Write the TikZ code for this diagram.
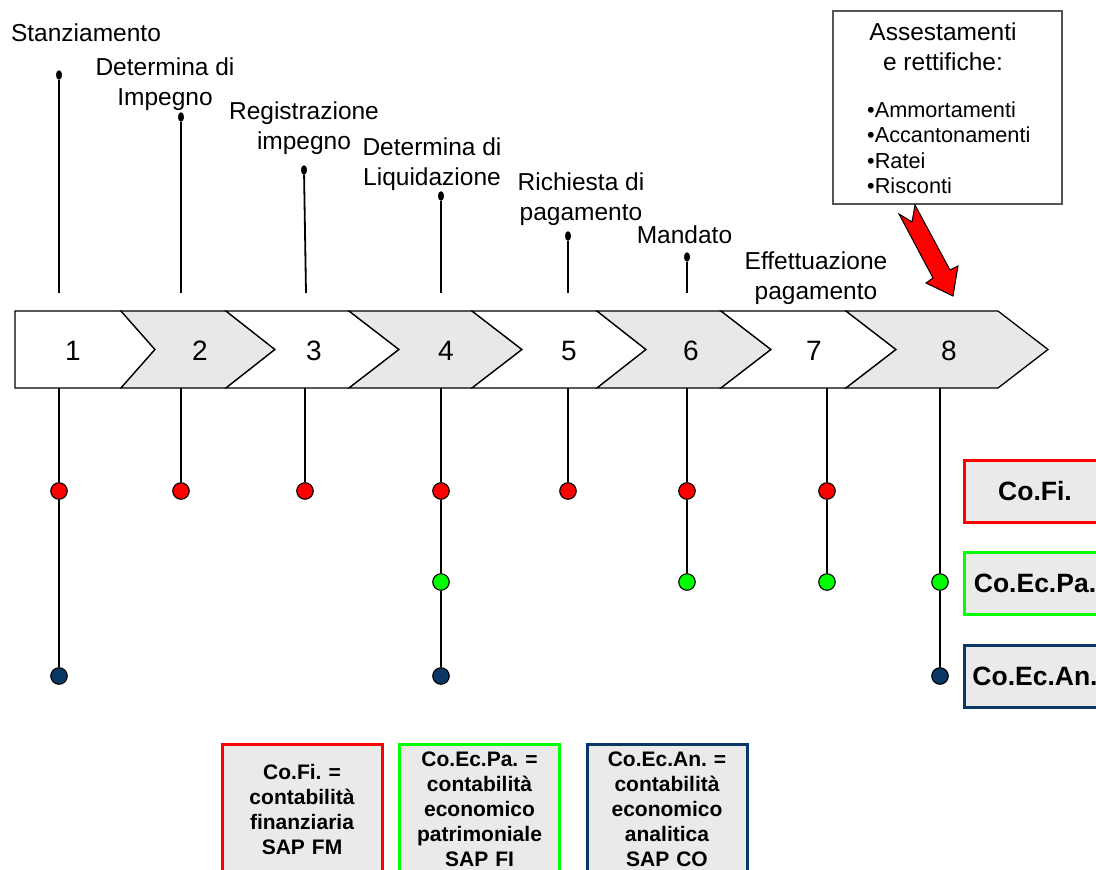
\documentclass[tikz,border=0pt]{standalone}
\usepackage{fontspec}
\setmainfont{Liberation Sans}
\usepackage{tikz}
\usetikzlibrary{positioning,shapes.geometric}
\usepackage{xcolor}
\definecolor{cofired}{HTML}{FF0000}
\definecolor{coecgreen}{HTML}{00FF00}
\definecolor{coannavy}{HTML}{0B3767}
\definecolor{bandgray}{HTML}{E8E8E8}
\definecolor{boxgray}{HTML}{EAEAEA}
\definecolor{framegray}{HTML}{555555}
\frenchspacing

\begin{document}
\begin{tikzpicture}[x=1pt,y=-1pt,
    lbl/.style={align=center, inner sep=0pt, font=\fontsize{24.5}{30}\selectfont},
    num/.style={anchor=base, inner sep=0pt, font=\fontsize{28}{30}\selectfont},
    pin/.style={ellipse, draw=black, fill=black, inner sep=0pt, minimum width=5.5pt, minimum height=9pt},
    dot/.style={circle, draw=black, line width=1.1pt, inner sep=0pt, minimum size=16.5pt},
    stem/.style={line width=1.8pt},
    legbox/.style={draw, line width=3pt, fill=boxgray, inner sep=0pt, align=center},
    keybox/.style={legbox, text width=158pt, minimum width=160pt, minimum height=131pt,
        font=\fontsize{21}{25}\selectfont\bfseries},
    sidebox/.style={legbox, minimum width=142pt, minimum height=62pt,
        font=\fontsize{26.5}{30}\selectfont\bfseries}]
    \useasboundingbox (0,0) rectangle (1096,870);

    % Band of phases
    \draw[line width=1.3pt, fill=white] (15,311) -- (121,311) -- (155,349.5) -- (121,388) -- (15,388) -- cycle;
    \draw[line width=1.3pt, fill=bandgray] (121,311) -- (226,311) -- (275,349.5) -- (226,388) -- (121,388) -- (155,349.5) -- cycle;
    \draw[line width=1.3pt, fill=white] (226,311) -- (349,311) -- (399,349.5) -- (349,388) -- (226,388) -- (275,349.5) -- cycle;
    \draw[line width=1.3pt, fill=bandgray] (349,311) -- (472,311) -- (522,349.5) -- (472,388) -- (349,388) -- (399,349.5) -- cycle;
    \draw[line width=1.3pt, fill=white] (472,311) -- (597,311) -- (646,349.5) -- (597,388) -- (472,388) -- (522,349.5) -- cycle;
    \draw[line width=1.3pt, fill=bandgray] (597,311) -- (721,311) -- (771,349.5) -- (721,388) -- (597,388) -- (646,349.5) -- cycle;
    \draw[line width=1.3pt, fill=white] (721,311) -- (846,311) -- (896,349.5) -- (846,388) -- (721,388) -- (771,349.5) -- cycle;
    \draw[line width=1.3pt, fill=bandgray] (846,311) -- (998,311) -- (1048,349.5) -- (998,388) -- (846,388) -- (896,349.5) -- cycle;
    \node[num] (n1) at (73,360) {1};
    \node[num] (n2) at (200,360) {2};
    \node[num] (n3) at (314,360) {3};
    \node[num] (n4) at (446,360) {4};
    \node[num] (n5) at (569,360) {5};
    \node[num] (n6) at (691,360) {6};
    \node[num] (n7) at (814,360) {7};
    \node[num] (n8) at (949,360) {8};

    % Steps above the band
    \node[lbl, anchor=base] (stanz) at (86,41) {Stanziamento};
    \node[lbl, anchor=north] (detimp) at (165,58) {Determina di\\Impegno};
    \node[lbl, anchor=north] (regimp) at (304,101.5) {Registrazione\\impegno};
    \node[lbl, anchor=north] (detliq) at (432,138) {Determina di\\Liquidazione};
    \node[lbl, anchor=north] (richpag) at (581,173) {Richiesta di\\pagamento};
    \node[lbl, anchor=base] (mand) at (684.5,243) {Mandato};
    \node[lbl, anchor=north] (effpag) at (816,252) {Effettuazione\\pagamento};

    \node[pin] (p1) at (59,75) {};
    \node[pin] (p2) at (181,117) {};
    \node[pin] (p3) at (304,170) {};
    \node[pin] (p4) at (441,196) {};
    \node[pin] (p5) at (568,236) {};
    \node[pin] (p6) at (687,257) {};
    \coordinate (t1) at (59,293);
    \coordinate (t2) at (181,293);
    \coordinate (t3) at (306,293);
    \coordinate (t4) at (441,293);
    \coordinate (t5) at (568,293);
    \coordinate (t6) at (687,293);
    \draw[stem] (p1) -- (t1);
    \draw[stem] (p2) -- (t2);
    \draw[stem] (p3) -- (t3);
    \draw[stem] (p4) -- (t4);
    \draw[stem] (p5) -- (t5);
    \draw[stem] (p6) -- (t6);

    % Adjustments box and arrow
    \node[draw=framegray, line width=1.2pt, fill=white, minimum width=229pt, minimum height=193pt] (adj) at (947.5,107.5) {};
    \node[lbl, anchor=north] (adjhead) at (943,23) {Assestamenti\\e rettifiche:};
    \node[anchor=north west, align=left, inner sep=0pt, font=\fontsize{21.7}{25.3}\selectfont] (adjlist) at (867,101.5)
        {•Ammortamenti\\•Accantonamenti\\•Ratei\\•Risconti};
    \filldraw[fill=cofired, draw=black, line width=1pt] (915,205) -- (950,270) -- (958,266) -- (953,296)
        -- (926,283) -- (933,278) -- (899,214) -- (912,222) -- cycle;

    % Steps below the band
    \coordinate (b1) at (59,388);
    \coordinate (b2) at (181,388);
    \coordinate (b3) at (305,388);
    \coordinate (b4) at (441,388);
    \coordinate (b5) at (568,388);
    \coordinate (b6) at (687,388);
    \coordinate (b7) at (827,388);
    \coordinate (b8) at (940,388);

    \node[dot, fill=cofired] (r1) at (59,491) {};
    \node[dot, fill=cofired] (r2) at (181,491) {};
    \node[dot, fill=cofired] (r3) at (305,491) {};
    \node[dot, fill=cofired] (r4) at (441,491) {};
    \node[dot, fill=cofired] (r5) at (568,491) {};
    \node[dot, fill=cofired] (r6) at (687,491) {};
    \node[dot, fill=cofired] (r7) at (827,491) {};
    \node[dot, fill=coecgreen] (g4) at (441,582) {};
    \node[dot, fill=coecgreen] (g6) at (687,582) {};
    \node[dot, fill=coecgreen] (g7) at (827,582) {};
    \node[dot, fill=coecgreen] (g8) at (940,582) {};
    \node[dot, fill=coannavy] (a1) at (59,676) {};
    \node[dot, fill=coannavy] (a4) at (441,676) {};
    \node[dot, fill=coannavy] (a8) at (940,676) {};

    \draw[stem] (b1) -- (r1) -- (a1);
    \draw[stem] (b2) -- (r2);
    \draw[stem] (b3) -- (r3);
    \draw[stem] (b4) -- (r4) -- (g4) -- (a4);
    \draw[stem] (b5) -- (r5);
    \draw[stem] (b6) -- (r6) -- (g6);
    \draw[stem] (b7) -- (r7) -- (g7);
    \draw[stem] (b8) -- (g8) -- (a8);

    % Side legend
    \node[sidebox, draw=cofired] (cofi) at (1035,491) {Co.Fi.};
    \node[sidebox, draw=coecgreen] (coecpa) at (1035,583) {Co.Ec.Pa.};
    \node[sidebox, draw=coannavy] (coecan) at (1035,676.5) {Co.Ec.An.};

    % Key at the bottom
    \node[keybox, draw=cofired] (keyfi) at (302,809.5) {Co.Fi. =\\contabilità\\finanziaria\\SAP FM};
    \node[keybox, draw=coecgreen] (keypa) at (479.5,809.5) {Co.Ec.Pa. =\\contabilità\\economico\\patrimoniale\\SAP FI};
    \node[keybox, draw=coannavy] (keyan) at (667,809.5) {Co.Ec.An. =\\contabilità\\economico\\analitica\\SAP CO};
\end{tikzpicture}
\end{document}
